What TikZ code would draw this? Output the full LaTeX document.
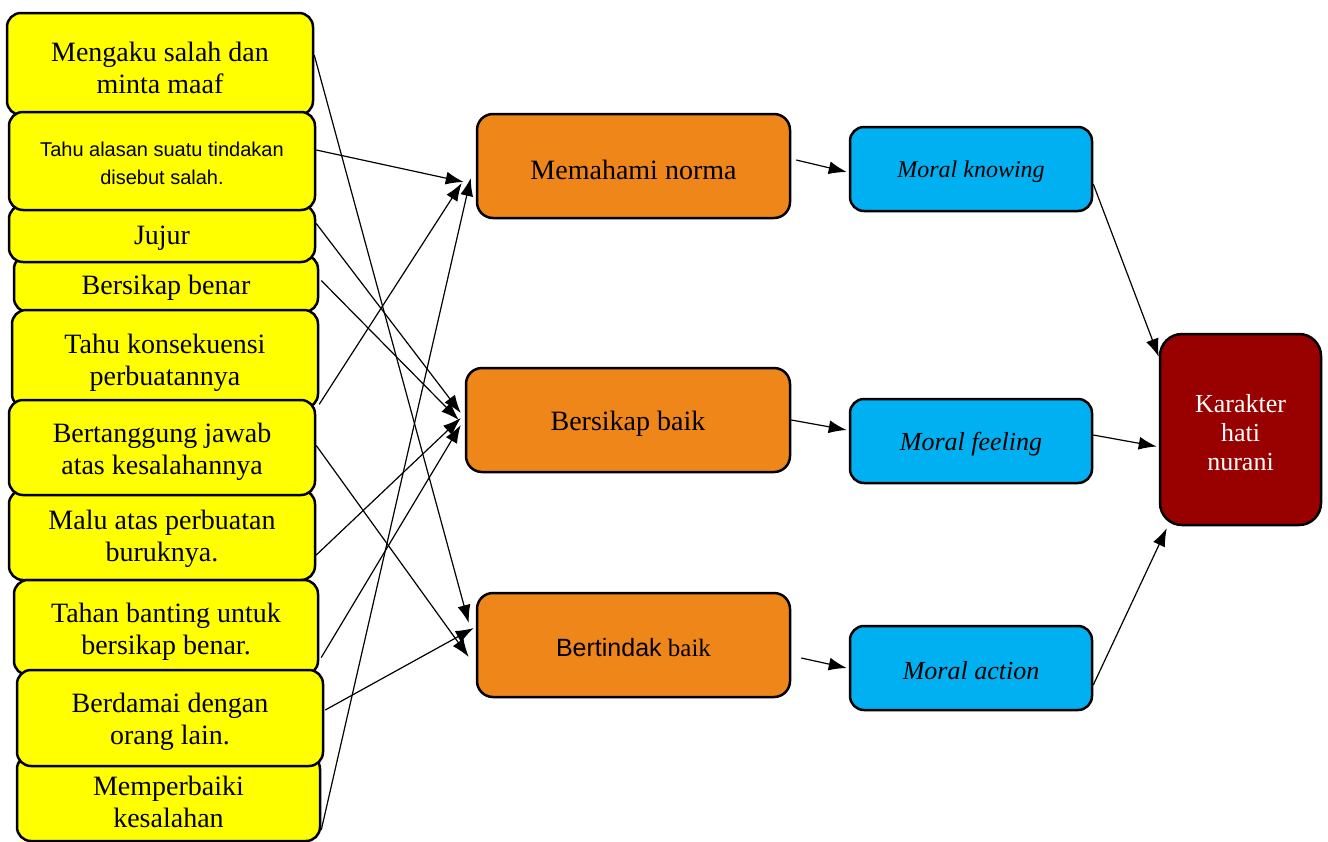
\documentclass[tikz,border=0pt]{standalone}
\usepackage{fontspec}
\setmainfont{Liberation Serif}
\newfontfamily\arialfont{Liberation Sans}
\usetikzlibrary{arrows.meta}
\tikzset{>={Latex[length=9pt,width=6.5pt]}}

\definecolor{boxyellow}{HTML}{FFFF00}
\definecolor{boxorange}{HTML}{EF861A}
\definecolor{boxblue}{HTML}{00B0F0}
\definecolor{boxred}{HTML}{990000}

\tikzset{
  indicator/.style={draw, line width=1.25pt, fill=boxyellow, rounded corners=7pt,
    align=center, inner sep=0pt, minimum width=153pt,
    font=\fontsize{14}{16}\selectfont},
  twoline/.style={indicator, execute at begin node={\rule{0pt}{29.6pt}}},
  oneline/.style={indicator, execute at begin node={\rule{0pt}{13.6pt}}},
  aspect/.style={draw, line width=1.25pt, fill=boxorange, rounded corners=8pt,
    align=center, minimum width=156.5pt, minimum height=52pt,
    font=\fontsize{14}{16}\selectfont},
  moral/.style={draw, line width=1.25pt, fill=boxblue, rounded corners=7pt,
    minimum width=121pt, minimum height=42pt,
    font=\fontsize{13}{15}\selectfont\itshape},
  result/.style={draw, line width=1.25pt, fill=boxred, text=white, rounded corners=11pt,
    align=center, minimum width=80.5pt, minimum height=95.5pt,
    font=\fontsize{13}{14.5}\selectfont,
    execute at begin node={\rule{0pt}{41pt}}},
  link/.style={->, line width=0.6pt}
}

\begin{document}
\begin{tikzpicture}[x=0.5pt,y=-0.5pt]
\useasboundingbox (0,0) rectangle (1328,841);

% indikator
\node[twoline, minimum height=51pt] (m1) at (160,64) {Mengaku salah dan\\minta maaf};
\node[oneline, minimum height=28.5pt, minimum width=152pt] (m4) at (166,283.5) {Bersikap benar};
\node[oneline, minimum height=28.5pt] (m3) at (162,233.5) {Jujur};
\node[indicator, minimum height=49pt, font=\arialfont\fontsize{10}{14}\selectfont,
  execute at begin node={\rule{0pt}{23.2pt}}] (m2) at (162,161) {Tahu alasan suatu tindakan\\disebut salah.};
\node[twoline, minimum height=49pt] (m5) at (165,359) {Tahu konsekuensi\\perbuatannya};
\node[twoline, minimum height=45pt] (m7) at (162,535) {Malu atas perbuatan\\buruknya.};
\node[twoline, minimum height=47.5pt] (m6) at (162,447.5) {Bertanggung jawab\\atas kesalahannya};
\node[twoline, minimum height=43pt, minimum width=151.5pt] (m10) at (168.5,798) {Memperbaiki\\kesalahan};
\node[twoline, minimum height=47.5pt, minimum width=152pt] (m8) at (166,627.5) {Tahan banting untuk\\bersikap benar.};
\node[twoline, minimum height=48pt] (m9) at (170,718) {Berdamai dengan\\orang lain.};

% aspek
\node[aspect, execute at begin node={\rule{0pt}{13.6pt}}] (norma) at (633.5,166) {Memahami norma};
\node[aspect, minimum width=162pt, execute at begin node={\rule{0pt}{13.6pt}}] (sikap) at (628,420) {Bersikap baik};
\node[aspect, font=\fontsize{12.5}{15}\selectfont,
  execute at begin node={\rule{0pt}{12pt}}] (tindak) at (633.5,645) {{\arialfont Bertindak} baik};

\node[moral, font=\fontsize{12}{14}\selectfont\itshape,
  execute at begin node={\rule{0pt}{11pt}}] (know) at (971,169) {Moral knowing};
\node[moral, execute at begin node={\rule{0pt}{11.8pt}}] (feel) at (971,441) {Moral feeling};
\node[moral, execute at begin node={\rule{0pt}{11.8pt}}] (act) at (971,668) {Moral action};

\node[result] (hati) at (1240.5,429.5) {Karakter\\hati\\nurani};

% panah
\draw[link] ([shift={(0,-11)}]m2.east) -- ([shift={(-12,16)}]norma.west);
\draw[link] ([shift={(0,-5)}]m5.south east) -- ([shift={(-14,17)}]norma.west);
\draw[link] ([shift={(0,32)}]m10.east) -- ([shift={(-5,12)}]norma.west);

\draw[link] ([shift={(0,-10)}]m3.east) -- ([shift={(-4,-7)}]sikap.west);
\draw[link] ([shift={(2,-3)}]m4.east) -- ([shift={(-6,0)}]sikap.west);
\draw[link] ([shift={(0,20)}]m7.east) -- ([shift={(-4,-2)}]sikap.west);
\draw[link] ([shift={(2,30)}]m8.east) -- ([shift={(-4,5)}]sikap.west);

\draw[link] ([shift={(0,-9)}]m1.east) -- ([shift={(-7,-22)}]tindak.west);
\draw[link] ([shift={(1,-8)}]m9.east) -- ([shift={(-2,-17)}]tindak.west);
\draw[link] ([shift={(0,-2)}]m6.east) -- ([shift={(-7,12)}]tindak.west);

\draw[link] ([shift={(5,-6)}]norma.east) -- ([shift={(-2,3)}]know.west);
\draw[link] (sikap.east) -- ([shift={(-2,-11)}]feel.west);
\draw[link] ([shift={(10,13)}]tindak.east) -- ([shift={(-2,0)}]act.west);

\draw[link] ([shift={(0,15)}]know.east) -- ([shift={(0,24)}]hati.north west);
\draw[link] ([shift={(0,-6)}]feel.east) -- ([shift={(-2,17)}]hati.west);
\draw[link] ([shift={(0,17)}]act.east) -- ([shift={(8,2)}]hati.south west);

\end{tikzpicture}
\end{document}
